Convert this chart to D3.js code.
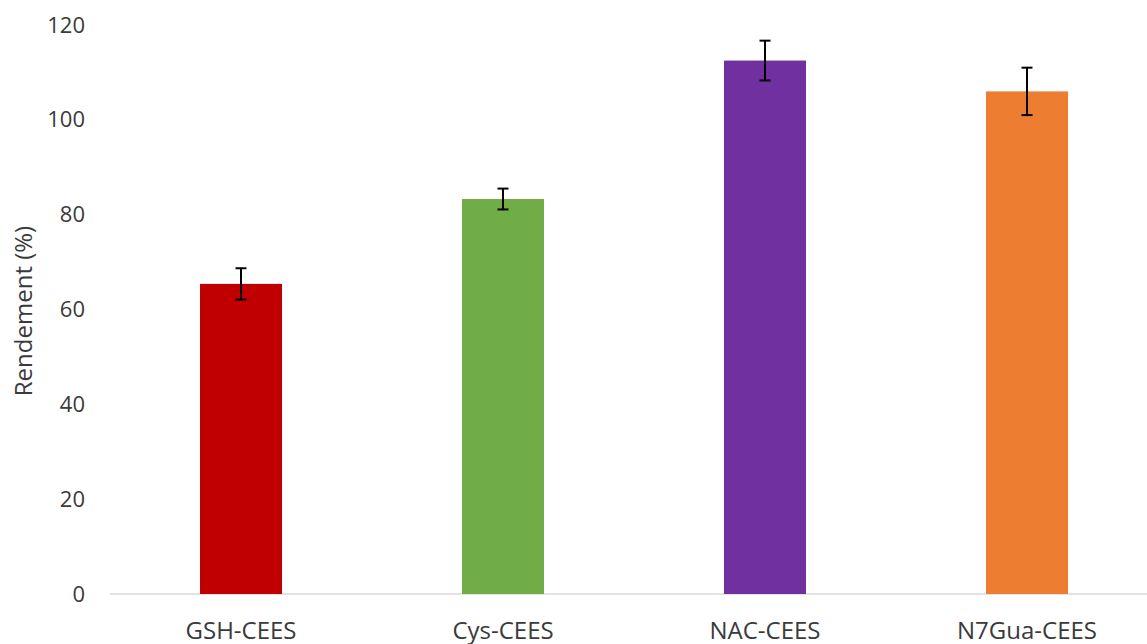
<!DOCTYPE html>
<html><head><meta charset="utf-8">
<script src="https://cdn.jsdelivr.net/npm/d3@7"></script>
<style>body{margin:0;background:#fff;}svg{display:block;font-family:"Open Sans",sans-serif;}</style>
</head><body><svg id="c" width="1147" height="644"></svg>
<script>
const categories = ["GSH-CEES","Cys-CEES","NAC-CEES","N7Gua-CEES"];
const values = [65.4, 83.3, 112.5, 106.0];
const errors = [3.3, 2.2, 4.2, 5.0];
const colors = ["#C00000","#70AD47","#7030A0","#ED7D31"];
const yTicks = [0,20,40,60,80,100,120];
const yTitle = "Rendement (%)";

const svg = d3.select("#c");
const x = d3.scaleBand().domain(categories).range([110,1158]).paddingInner(0.687).paddingOuter(0.3435);
const y = d3.scaleLinear().domain([0,120]).range([594,25]);

// axis line
svg.append("line").attr("x1",110).attr("x2",1147).attr("y1",y(0)).attr("y2",y(0))
  .attr("stroke","#D9D9D9").attr("stroke-width",1.5);

// y tick labels
const yAxis = d3.axisLeft(y).tickValues(yTicks).tickSize(0).tickPadding(0);
const ga = svg.append("g").attr("transform","translate(85,0)").call(yAxis);
ga.select(".domain").remove();
ga.selectAll("text").attr("font-size",22).attr("fill","#3a3a3a").attr("font-family","Open Sans");

// bars
categories.forEach((c,i)=>{
  svg.append("rect").attr("x",x(c)).attr("width",x.bandwidth())
    .attr("y",y(values[i])).attr("height",y(0)-y(values[i])).attr("fill",colors[i]);
});
// error bars
categories.forEach((c,i)=>{
  const cx = x(c)+x.bandwidth()/2;
  const g = svg.append("g").attr("stroke","#000").attr("stroke-width",2);
  g.append("line").attr("x1",cx).attr("x2",cx).attr("y1",y(values[i]+errors[i])).attr("y2",y(values[i]-errors[i]));
  g.append("line").attr("x1",cx-5.5).attr("x2",cx+5.5).attr("y1",y(values[i]+errors[i])).attr("y2",y(values[i]+errors[i]));
  g.append("line").attr("x1",cx-5.5).attr("x2",cx+5.5).attr("y1",y(values[i]-errors[i])).attr("y2",y(values[i]-errors[i]));
});

// x labels
const xAxis = d3.axisBottom(x).tickSize(0).tickPadding(0);
const gx = svg.append("g").attr("transform","translate(0,639)").call(xAxis);
gx.select(".domain").remove();
gx.selectAll("text").attr("font-size",24).attr("fill","#3a3a3a").attr("font-family","Open Sans").attr("dy","0");

// y title
svg.append("text").attr("transform","translate(32,311) rotate(-90)").attr("text-anchor","middle")
  .attr("font-size",24).attr("fill","#3a3a3a").text(yTitle);
</script></body></html>
